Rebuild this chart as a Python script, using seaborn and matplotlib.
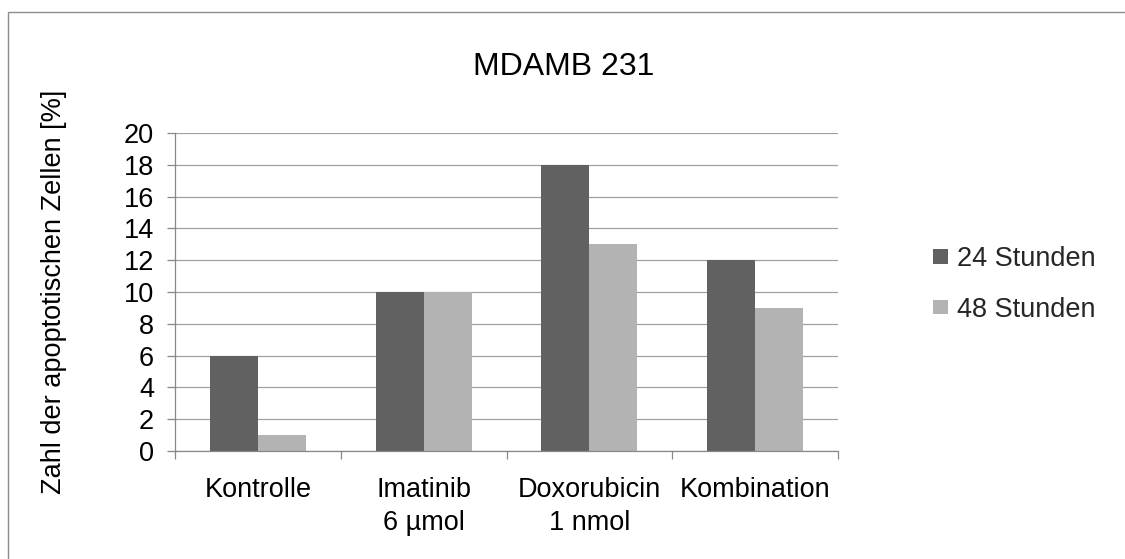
import matplotlib
matplotlib.use("Agg")
import matplotlib.pyplot as plt
from matplotlib.patches import Rectangle
from matplotlib.ticker import FixedLocator
import pandas as pd
import seaborn as sns

# Data
categories = ["Kontrolle", "Imatinib\n6 µmol", "Doxorubicin\n1 nmol", "Kombination"]
series_names = ["24 Stunden", "48 Stunden"]
values_24h = [6, 10, 18, 12]
values_48h = [1, 10, 13, 9]
y_ticks = [0, 2, 4, 6, 8, 10, 12, 14, 16, 18, 20]

title = "MDAMB 231"
y_label = "Zahl der apoptotischen Zellen [%]"

colors = ["#616161", "#b3b3b3"]
grid_color = "#a0a0a0"
axis_color = "#888888"

sns.set_theme(style="white")
plt.rcParams["font.family"] = ["Liberation Sans", "DejaVu Sans"]

df = pd.DataFrame({
    "Gruppe": categories * 2,
    "Zeit": [series_names[0]] * len(categories) + [series_names[1]] * len(categories),
    "Wert": values_24h + values_48h,
})

W, H = 1125, 559
fig = plt.figure(figsize=(W / 100, H / 100), dpi=100)
fig.patch.set_facecolor("white")

# plot area in pixel terms: x 175..838, y 133..451
ax = fig.add_axes([175 / W, 1 - 451 / H, 663 / W, 318 / H])

sns.barplot(data=df, x="Gruppe", y="Wert", hue="Zeit", order=categories,
            hue_order=series_names, palette=colors, saturation=1,
            width=0.58, linewidth=0, ax=ax)

ax.set_xlim(-0.5, len(categories) - 0.5)
ax.set_ylim(0, 20)
ax.set_yticks(y_ticks)
ax.set_xlabel("")
ax.set_ylabel(y_label, fontsize=19.5, color="black")
ax.yaxis.set_label_coords((54 - 175) / 663, 0.5)
ax.yaxis.label.set_verticalalignment("center")

# horizontal gridlines
ax.set_axisbelow(True)
ax.yaxis.grid(True, color=grid_color, linewidth=0.9)
ax.xaxis.grid(False)

for side in ("top", "right"):
    ax.spines[side].set_visible(False)
for side in ("left", "bottom"):
    ax.spines[side].set_color(axis_color)
    ax.spines[side].set_linewidth(0.9)

# category separators as outward minor ticks
ax.xaxis.set_minor_locator(FixedLocator([i - 0.5 for i in range(len(categories) + 1)]))
ax.tick_params(axis="x", which="major", length=0, pad=19, labelsize=19.5,
               labelcolor="black")
ax.tick_params(axis="x", which="minor", bottom=True, length=6, width=0.9,
               color=axis_color, direction="out")
ax.tick_params(axis="y", which="major", left=True, length=6, width=0.9,
               color=axis_color, direction="out", pad=9, labelsize=19.5,
               labelcolor="black")
for lbl in ax.get_xticklabels():
    lbl.set_linespacing(1.35)

ax.set_title(title, fontsize=23, color="black", x=(564 - 175) / 663,
             y=(451 - 75) / 318, pad=0)

# legend on the right
handles, labels = ax.get_legend_handles_labels()
if ax.get_legend() is not None:
    ax.get_legend().remove()
fig.legend(handles, labels, loc="center left",
           bbox_to_anchor=(933 / W, 1 - 284.5 / H), bbox_transform=fig.transFigure,
           frameon=False, fontsize=19.5, handlelength=0.55, handleheight=0.46,
           handletextpad=0.33, labelspacing=0.9, borderpad=0, borderaxespad=0)

# chart area frame
fig.add_artist(Rectangle((8 / W, -0.1), 1.2, (H - 12) / H + 0.1,
                         transform=fig.transFigure, fill=False,
                         edgecolor="#8c8c8c", linewidth=1.0))

fig.savefig("out.png", dpi=100, facecolor="white")
